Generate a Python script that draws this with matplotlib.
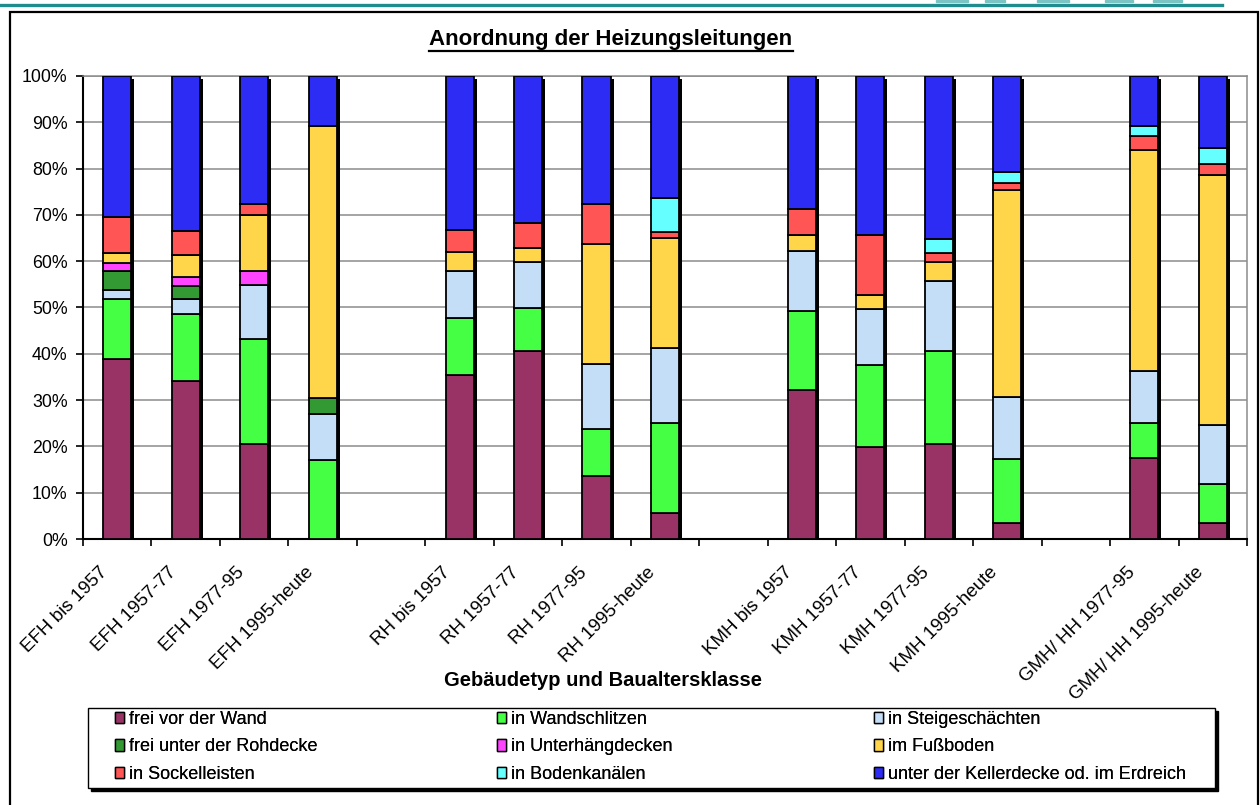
import numpy as np
import matplotlib
matplotlib.use("Agg")
import matplotlib.pyplot as plt
from matplotlib.patches import Rectangle, Patch
from matplotlib.lines import Line2D
import matplotlib.transforms as mtransforms

plt.rcParams['font.family'] = ['Liberation Sans', 'DejaVu Sans']

# ---------------- data ----------------
categories = ["EFH bis 1957", "EFH 1957-77", "EFH 1977-95", "EFH 1995-heute", "",
              "RH bis 1957", "RH 1957-77", "RH 1977-95", "RH 1995-heute", "",
              "KMH bis 1957", "KMH 1957-77", "KMH 1977-95", "KMH 1995-heute", "",
              "GMH/ HH 1977-95", "GMH/ HH 1995-heute"]

series_names = ["frei vor der Wand", "in Wandschlitzen", "in Steigeschächten",
                "frei unter der Rohdecke", "in Unterhängdecken", "im Fußboden",
                "in Sockelleisten", "in Bodenkanälen",
                "unter der Kellerdecke od. im Erdreich"]

frei_vor_der_wand = [38.8, 34.1, 20.6, 0.0, None, 35.4, 40.6, 13.7, 5.7, None, 32.2, 19.9, 20.5, 3.4, None, 17.6, 3.5]
in_wandschlitzen = [13.1, 14.5, 22.5, 17.1, None, 12.4, 9.2, 10.0, 19.4, None, 17.1, 17.7, 20.1, 13.8, None, 7.4, 8.4]
in_steigeschaechten = [1.8, 3.3, 11.7, 9.9, None, 10.1, 10.1, 14.2, 16.1, None, 12.9, 12.0, 15.2, 13.5, None, 11.3, 12.7]
frei_unter_rohdecke = [4.2, 2.8, 0.0, 3.4, None, 0.0, 0.0, 0.0, 0.0, None, 0.0, 0.0, 0.0, 0.0, None, 0.0, 0.0]
in_unterhaengdecken = [1.7, 1.9, 3.1, 0.0, None, 0.0, 0.0, 0.0, 0.0, None, 0.0, 0.0, 0.0, 0.0, None, 0.0, 0.0]
im_fussboden = [2.1, 4.7, 12.0, 58.7, None, 4.0, 3.0, 25.9, 23.8, None, 3.4, 3.1, 4.1, 44.6, None, 47.7, 54.1]
in_sockelleisten = [7.9, 5.2, 2.5, 0.0, None, 4.8, 5.4, 8.5, 1.2, None, 5.6, 12.9, 1.8, 1.6, None, 3.0, 2.4]
in_bodenkanaelen = [0.0, 0.0, 0.0, 0.0, None, 0.0, 0.0, 0.0, 7.5, None, 0.0, 0.0, 3.2, 2.4, None, 2.1, 3.4]
unter_kellerdecke = [30.4, 33.5, 27.6, 10.9, None, 33.3, 31.7, 27.7, 26.3, None, 28.8, 34.4, 35.1, 20.7, None, 10.9, 15.5]

series_values = [frei_vor_der_wand, in_wandschlitzen, in_steigeschaechten,
                 frei_unter_rohdecke, in_unterhaengdecken, im_fussboden,
                 in_sockelleisten, in_bodenkanaelen, unter_kellerdecke]

colors = ["#993366", "#44FF44", "#C5DEF8", "#339933", "#FF44FF",
          "#FFD54A", "#FF5555", "#66FFFF", "#2C2CF5"]

y_ticks = [0, 10, 20, 30, 40, 50, 60, 70, 80, 90, 100]
y_ticklabels = [f"{v}%" for v in y_ticks]

# ---------------- figure ----------------
W, H = 1260, 805
fig = plt.figure(figsize=(W / 100, H / 100), dpi=100)
fig.patch.set_facecolor("white")


def fx(px):
    return px / W


def fy(py):
    return 1 - py / H


ax_left, ax_right, ax_top, ax_bottom = 83, 1247, 76, 539
ax = fig.add_axes([fx(ax_left), fy(ax_bottom), fx(ax_right - ax_left), (ax_bottom - ax_top) / H])
ax.set_facecolor("white")

x = np.arange(len(categories))
valid = [i for i, c in enumerate(categories) if c]
bar_w = 0.41

# shadows behind the columns (shifted 3 px right, 3 px down)
shadow_tr = ax.transData + mtransforms.ScaledTranslation(3 / 100, -3 / 100, fig.dpi_scale_trans)
totals = [sum(series_values[s][i] for s in range(len(series_values))) for i in valid]
ax.bar([x[i] for i in valid], totals, width=bar_w, color="black", transform=shadow_tr, zorder=2)

bottoms = np.zeros(len(categories))
for name, vals, col in zip(series_names, series_values, colors):
    idx = [i for i in valid if vals[i] > 0]
    ax.bar([x[i] for i in idx], [vals[i] for i in idx], width=bar_w,
           bottom=[bottoms[i] for i in idx], color=col, edgecolor="black",
           linewidth=1.3, zorder=3)
    for i in valid:
        bottoms[i] += vals[i]

ax.set_xlim(-0.5, len(categories) - 0.5)
ax.set_ylim(0, 100)

# y axis
ax.set_yticks(y_ticks)
ax.set_yticklabels(y_ticklabels, fontsize=12.8)
ax.yaxis.grid(True, color="#8c8c8c", linewidth=1.1, zorder=0)
ax.set_axisbelow(True)
ax.tick_params(axis="y", direction="out", length=5, width=1.2, pad=6, colors="black")

# x axis: tick marks between categories, labels at category centres
ax.set_xticks(np.arange(-0.5, len(categories), 1.0))
ax.set_xticklabels([])
ax.tick_params(axis="x", which="major", direction="out", length=5, width=1.2)
ax.set_xticks(x, minor=True)
ax.set_xticklabels(categories, minor=True, rotation=45, ha="right", fontsize=13.5)
ax.tick_params(axis="x", which="minor", length=0, pad=18)
off = mtransforms.ScaledTranslation(-6 / 100, 0, fig.dpi_scale_trans)
for lab in ax.get_xticklabels(minor=True):
    lab.set_transform(lab.get_transform() + off)

for s in ["left", "bottom"]:
    ax.spines[s].set_color("black")
    ax.spines[s].set_linewidth(1.5)
for s in ["top", "right"]:
    ax.spines[s].set_color("#8c8c8c")
    ax.spines[s].set_linewidth(1.1)

# x label
fig.text(fx(603), fy(680), "Gebäudetyp und Baualtersklasse", ha="center", va="center",
         fontsize=14.5, fontweight="bold")

# title with underline
title = fig.text(fx(611), fy(40), "Anordnung der Heizungsleitungen", ha="center", va="center",
                 fontsize=16, fontweight="bold")
fig.canvas.draw()
bb = title.get_window_extent(renderer=fig.canvas.get_renderer())
uy = (bb.y0 - 1) / H
fig.add_artist(Line2D([bb.x0 / W, bb.x1 / W], [uy, uy], color="black", linewidth=1.6,
                      transform=fig.transFigure))

# outer frame and decorative top line
fig.add_artist(Rectangle((fx(10), fy(812)), fx(1248), (812 - 12) / H, fill=False,
                         edgecolor="black", linewidth=1.6, transform=fig.transFigure))
fig.add_artist(Line2D([0, fx(1222)], [fy(5), fy(5)], color="#218C8D", linewidth=2.4,
                      transform=fig.transFigure))
for x0, x1 in [(936, 968), (985, 1005), (1037, 1069), (1105, 1133), (1153, 1182)]:
    fig.add_artist(Rectangle((fx(x0), fy(2)), fx(x1 - x0), 2 / H, color="#7CC3C3",
                             transform=fig.transFigure))

# legend box with shadow
lx0, lx1, ly0, ly1 = 88, 1215, 708, 788
fig.add_artist(Rectangle((fx(lx0 + 3), fy(ly1 + 3)), fx(lx1 - lx0), (ly1 - ly0) / H,
                         facecolor="black", edgecolor="black", transform=fig.transFigure))
fig.add_artist(Rectangle((fx(lx0), fy(ly1)), fx(lx1 - lx0), (ly1 - ly0) / H,
                         facecolor="white", edgecolor="black", linewidth=1.0,
                         transform=fig.transFigure))

handles = [Patch(facecolor=c, edgecolor="black", linewidth=1.0) for c in colors]
col_x = [115, 497, 874]
for ci in range(3):
    idxs = [ci, ci + 3, ci + 6]
    leg = fig.legend([handles[k] for k in idxs], [series_names[k] for k in idxs],
                     loc="upper left", bbox_to_anchor=(fx(col_x[ci]), fy(711)),
                     frameon=False, fontsize=13, handlelength=0.5, handleheight=0.6,
                     handletextpad=0.25, labelspacing=0.58, borderpad=0.0,
                     borderaxespad=0.0)
    fig.add_artist(leg)

fig.savefig("out.png", dpi=100)
